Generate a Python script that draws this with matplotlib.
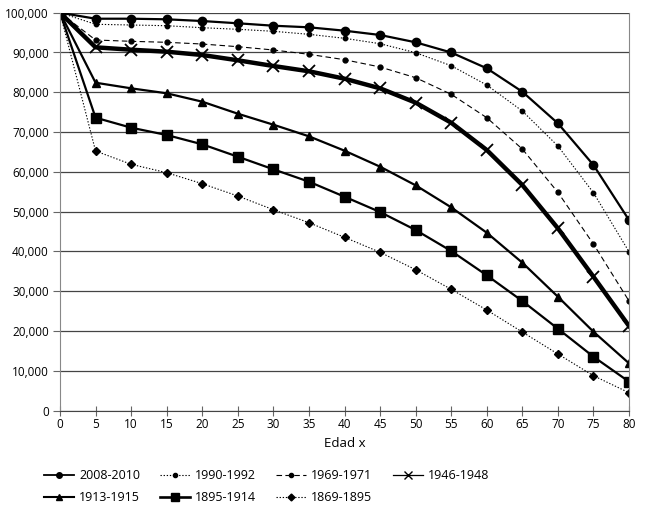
import matplotlib
matplotlib.use("Agg")
import matplotlib.pyplot as plt
from matplotlib.ticker import FuncFormatter
from matplotlib.lines import Line2D

ages = [0, 5, 10, 15, 20, 25, 30, 35, 40, 45, 50, 55, 60, 65, 70, 75, 80]

s2008 = [100000, 98490, 98490, 98340, 97910, 97340, 96730, 96330, 95480, 94400, 92560, 90000, 86030, 80150, 72210, 61730, 47910]
s1990 = [100000, 97090, 96910, 96730, 96230, 95830, 95330, 94570, 93570, 92210, 89950, 86680, 81830, 75300, 66510, 54770, 39950]
s1969 = [100000, 93140, 92810, 92560, 92130, 91460, 90630, 89550, 88190, 86360, 83670, 79500, 73620, 65750, 54870, 41880, 27560]
s1946 = [100000, 91300, 90700, 90200, 89370, 88040, 86610, 85280, 83420, 81000, 77400, 72360, 65500, 56710, 45830, 33670, 21280]
s1913 = [100000, 82410, 81000, 79750, 77640, 74620, 71860, 68940, 65330, 61310, 56630, 51100, 44720, 37190, 28640, 19850, 11910]
s1895 = [100000, 73620, 71110, 69270, 66930, 63820, 60650, 57540, 53770, 49920, 45400, 40130, 34020, 27560, 20600, 13570, 7290]
s1869 = [100000, 65250, 61910, 59800, 57040, 53940, 50500, 47240, 43570, 39800, 35430, 30500, 25300, 19770, 14250, 8790, 4520]

labels = ["2008-2010", "1990-1992", "1969-1971", "1946-1948", "1913-1915", "1895-1914", "1869-1895"]
series = [s2008, s1990, s1969, s1946, s1913, s1895, s1869]

styles = [
    dict(ls="-", lw=1.6, marker="o", ms=6),
    dict(ls=(0, (1.2, 1.6)), lw=0.8, marker="o", ms=3.2),
    dict(ls=(0, (5, 3)), lw=0.8, marker="o", ms=3.5),
    dict(ls="-", lw=3.2, marker="x", ms=8, mew=1.3),
    dict(ls="-", lw=1.6, marker="^", ms=6),
    dict(ls="-", lw=1.6, marker="s", ms=6.5),
    dict(ls=(0, (1.2, 1.6)), lw=0.8, marker="D", ms=4),
]
legend_lw = [1.3, 0.8, 0.8, 0.9, 1.5, 1.9, 0.8]
legend_ms = [4, 3, 3, 6, 4.5, 5.5, 3.5]

plt.rcParams['font.family'] = ['Open Sans', 'DejaVu Sans']

fig = plt.figure(figsize=(6.5, 5.23), dpi=100)
ax = fig.add_axes([60/650, 1 - 410.7/523, (629-60)/650, (410.7-12.7)/523])

handles = []
for lab, s, st, llw, lms in zip(labels, series, styles, legend_lw, legend_ms):
    ax.plot(ages, s, color="black", mfc="black", mec="black", label=lab, **st)
    proxy = dict(st)
    proxy["lw"] = llw
    proxy["ms"] = lms
    if "mew" in proxy:
        proxy["mew"] = 1.0
    handles.append(Line2D([], [], color="black", mfc="black", mec="black", **proxy))

ax.set_xlim(0, 80)
ax.set_ylim(0, 100000)
ax.set_xticks(ages)
ax.set_yticks(range(0, 100001, 10000))
ax.yaxis.set_major_formatter(FuncFormatter(lambda v, p: f"{int(v):,}"))
ax.grid(axis="y", color="#444444", lw=0.9)
ax.set_axisbelow(True)
ax.spines["top"].set_visible(False)
ax.spines["right"].set_color("#888888")
ax.spines["left"].set_color("#888888")
ax.spines["bottom"].set_color("#444444")
ax.tick_params(axis="x", direction="inout", length=7, width=0.8, color="#666666", labelsize=8.5, pad=2)
ax.tick_params(axis="y", direction="out", length=5, width=0.8, color="#666666", labelsize=8.5, pad=3)
ax.set_xlabel("Edad x", fontsize=9.5, labelpad=4)

# row-major legend order for 4 columns x 2 rows
order = [0, 4, 1, 5, 2, 6, 3]
fig.legend([handles[i] for i in order], [labels[i] for i in order], loc="upper left",
           bbox_to_anchor=(33/650, 1 - 458/523), ncol=4,
           frameon=False, fontsize=9, handlelength=2.4, handletextpad=0.4,
           columnspacing=1.6, labelspacing=0.7)

fig.savefig("out.png", dpi=100)
